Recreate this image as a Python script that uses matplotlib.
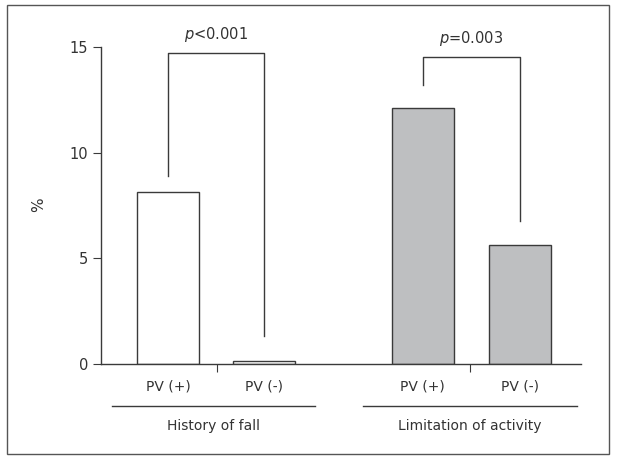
import matplotlib.pyplot as plt
from matplotlib.patches import Rectangle

# valeurs
groupes = ["History of fall", "Limitation of activity"]
categories = ["PV (+)", "PV (-)", "PV (+)", "PV (-)"]
valeurs = [8.15, 0.13, 12.13, 5.65]
couleurs = ["white", "white", "#bebfc1", "#bebfc1"]
p_textes = [r"$\it{p}$<0.001", r"$\it{p}$=0.003"]
# crochets : hauteur du haut, bas de la branche gauche, bas de la branche droite
crochet_haut = [14.7, 14.5]
crochet_gauche = [8.9, 13.2]
crochet_droite = [1.3, 6.75]

pos = [0, 1, 2.66, 3.68]
gris = "#3a3a3a"

fig = plt.figure(figsize=(6.19, 4.59), dpi=100)
ax = fig.add_axes([0.163, 0.207, 0.775, 0.691])

ax.bar(pos, valeurs, width=0.65, color=couleurs, edgecolor=gris, linewidth=1)

ax.set_xlim(-0.70, 4.31)
ax.set_ylim(0, 15)
ax.set_yticks([0, 5, 10, 15])
ax.spines["top"].set_visible(False)
ax.spines["right"].set_visible(False)
for s in ["left", "bottom"]:
    ax.spines[s].set_color(gris)
    ax.spines[s].set_linewidth(1)

# ticks entre les barres, étiquettes sous les barres
ax.set_xticks([0.51, 3.15])
ax.set_xticklabels([])
ax.set_xticks(pos, minor=True)
ax.set_xticklabels(categories, minor=True)
ax.tick_params(axis="x", which="major", length=6, color=gris, direction="out")
ax.tick_params(axis="x", which="minor", length=0, pad=11, labelsize=10, labelcolor="#333333")
ax.tick_params(axis="y", length=6, color=gris, labelsize=10.5, labelcolor="#333333", pad=3)

fig.text(39 / 619, 1 - 205 / 459, "%", rotation=90, ha="center", va="center",
         fontsize=11, color="#333333")

# crochets de significativité
paires = [(pos[0], pos[1]), (pos[2], pos[3])]
for i, (a, b) in enumerate(paires):
    ax.plot([a, a, b, b], [crochet_gauche[i], crochet_haut[i], crochet_haut[i], crochet_droite[i]],
            color=gris, linewidth=1, clip_on=False)
    ax.text((a + b) / 2, crochet_haut[i] + 0.45, p_textes[i], ha="center", va="bottom",
            fontsize=10.5, color="#333333")

# lignes de groupe sous l'axe
trans = ax.get_xaxis_transform()
lignes = [(-0.58, 1.54), (2.04, 4.27)]
for g, (a, b) in zip(groupes, lignes):
    ax.plot([a, b], [-0.131, -0.131], transform=trans, color=gris, linewidth=1, clip_on=False)
    ax.text((a + b) / 2, -0.194, g, transform=trans, ha="center", va="center",
            fontsize=10, color="#333333")

# cadre autour de la figure
fig.patches.append(Rectangle((7 / 619, 1 - 454 / 459), 602 / 619, 449 / 459,
                             transform=fig.transFigure, fill=False,
                             edgecolor="#555555", linewidth=1))

fig.savefig("out.png", dpi=100)
